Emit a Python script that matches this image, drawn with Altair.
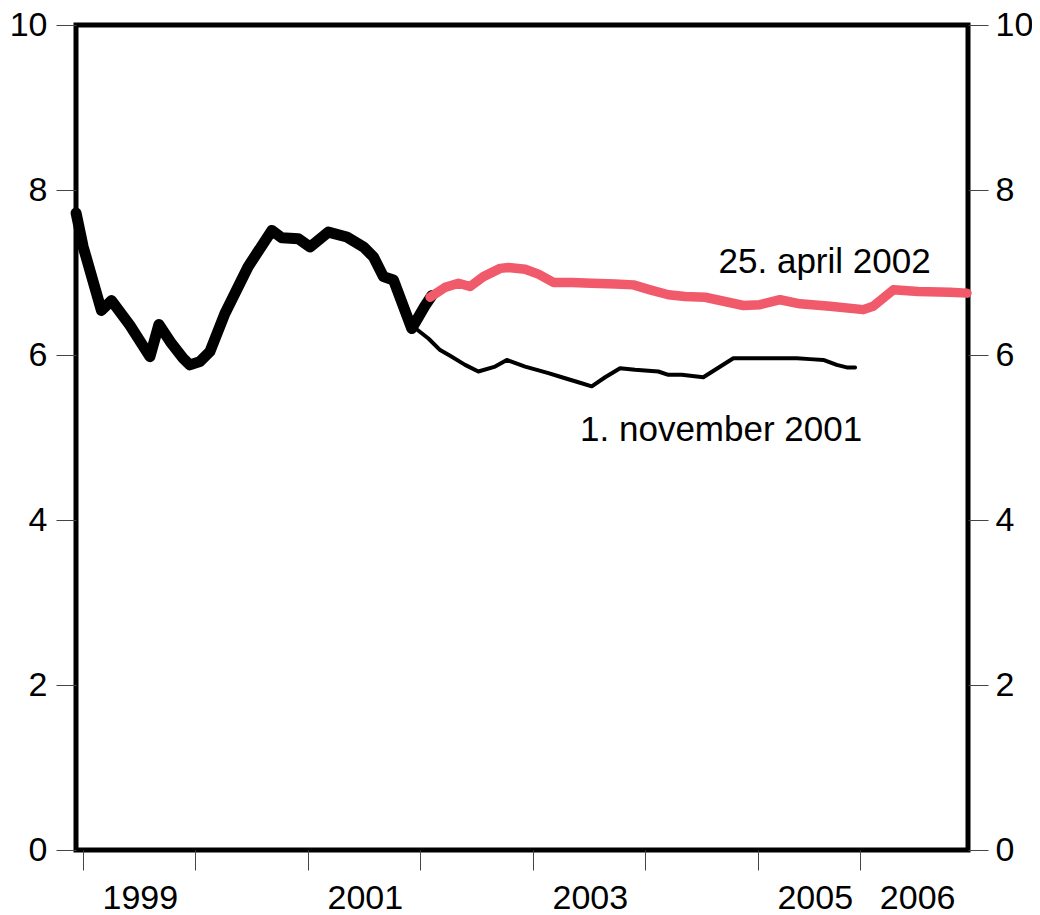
import altair as alt
import pandas as pd

# ---- data (decimal year, percent) ----
hist_t = [1998.94, 1999.003, 1999.165, 1999.254, 1999.418, 1999.596, 1999.676, 1999.788,
          1999.892, 1999.951, 2000.040, 2000.129, 2000.262, 2000.469, 2000.680, 2000.769,
          2000.916, 2001.020, 2001.183, 2001.347, 2001.495, 2001.583, 2001.672, 2001.761,
          2001.924, 2002.043, 2002.102]
hist_v = [7.72, 7.31, 6.54, 6.66, 6.36, 5.98, 6.37, 6.14,
          5.96, 5.88, 5.92, 6.04, 6.50, 7.07, 7.51, 7.42,
          7.41, 7.31, 7.49, 7.43, 7.31, 7.19, 6.95, 6.91,
          6.32, 6.60, 6.72]

nov_t = [2001.95, 2002.072, 2002.176, 2002.265, 2002.398, 2002.516, 2002.665, 2002.769,
         2002.932, 2003.139, 2003.258, 2003.405, 2003.524, 2003.643, 2003.776, 2003.909,
         2004.116, 2004.205, 2004.324, 2004.516, 2004.783, 2005.347, 2005.465, 2005.583,
         2005.702, 2005.791, 2005.865]
nov_v = [6.33, 6.20, 6.06, 5.99, 5.88, 5.80, 5.86, 5.94,
         5.86, 5.78, 5.73, 5.67, 5.62, 5.73, 5.84, 5.82,
         5.80, 5.76, 5.76, 5.73, 5.96, 5.96, 5.95, 5.94,
         5.88, 5.85, 5.85]

apr_t = [2002.087, 2002.220, 2002.339, 2002.443, 2002.561, 2002.710, 2002.783, 2002.932,
         2003.050, 2003.183, 2003.347, 2003.524, 2003.732, 2003.894, 2004.043, 2004.205,
         2004.354, 2004.532, 2004.872, 2005.020, 2005.198, 2005.376, 2005.642, 2005.939,
         2006.025, 2006.205, 2006.425, 2006.709, 2006.86]
apr_v = [6.70, 6.82, 6.87, 6.83, 6.95, 7.05, 7.06, 7.04,
         6.98, 6.88, 6.88, 6.87, 6.86, 6.85, 6.79, 6.73,
         6.71, 6.70, 6.60, 6.61, 6.67, 6.62, 6.59, 6.55,
         6.59, 6.79, 6.77, 6.76, 6.75]

label_text = ["25. april 2002", "1. november 2001"]
label_t = [2005.594, 2004.674]
label_v = [6.99, 4.955]

x_tick_values = [1999, 2000, 2001, 2002, 2003, 2004, 2005, 2005.91]
x_tick_labels = ["1999", "", "2001", "", "2003", "", "2005", "2006"]
y_tick_values = [0, 2, 4, 6, 8, 10]

df_hist = pd.DataFrame({"t": hist_t, "v": hist_v})
df_nov = pd.DataFrame({"t": nov_t, "v": nov_v})
df_apr = pd.DataFrame({"t": apr_t, "v": apr_v})
df_lab = pd.DataFrame({"t": label_t, "v": label_v, "label": label_text})

FONT = "Liberation Sans"

label_expr = ""
for val, lab in zip(x_tick_values, x_tick_labels):
    label_expr += f"abs(datum.value - {val}) < 0.01 ? '{lab}' : "
label_expr += "''"

x_scale = alt.Scale(domain=[1998.939, 2006.869], nice=False, zero=False)
y_scale = alt.Scale(domain=[0, 10], nice=False, zero=True)

x_axis = alt.Axis(values=x_tick_values, labelExpr=label_expr, labelOffset=57,
                  tickSize=20, tickColor="#444", tickWidth=1, domain=False, grid=False,
                  labelFontSize=34, labelFont=FONT, labelColor="black", labelPadding=11,
                  labelOverlap=False, labelFlush=False, labelBound=False, title=None)


def y_axis(orient, pad):
    return alt.Axis(values=y_tick_values, orient=orient, tickSize=20, tickColor="#444",
                    tickWidth=1, domain=False, grid=False, labelFontSize=34, labelFont=FONT,
                    labelColor="black", labelPadding=pad, labelOverlap=False,
                    labelFlush=False, title=None, format="d")


X = alt.X("t:Q", scale=x_scale, axis=x_axis)
Y_LEFT = alt.Y("v:Q", scale=y_scale, axis=y_axis("left", 9))

nov = alt.Chart(df_nov).mark_line(color="black", strokeWidth=4, strokeCap="round",
                                  strokeJoin="round").encode(x=X, y=Y_LEFT)
hist = alt.Chart(df_hist).mark_line(color="black", strokeWidth=11, strokeCap="round",
                                    strokeJoin="round").encode(x=X, y=Y_LEFT)
apr = alt.Chart(df_apr).mark_line(color="#F05A6A", strokeWidth=9.5, strokeCap="round",
                                  strokeJoin="round").encode(x=X, y=Y_LEFT)
txt = alt.Chart(df_lab).mark_text(font=FONT, fontSize=35, align="center",
                                  baseline="alphabetic", color="black").encode(
    x=X, y=Y_LEFT, text="label:N")

left = alt.layer(nov, hist, apr, txt)

right = alt.Chart(df_hist).mark_line(opacity=0).encode(
    x=X, y=alt.Y("v:Q", scale=y_scale, axis=y_axis("right", 7)))

chart = alt.layer(left, right).resolve_scale(y="independent").properties(
    width=892, height=825,
    autosize=alt.AutoSizeParams(type="none"),
    padding={"left": 68, "top": 17, "right": 64, "bottom": 65},
).configure_view(stroke="black", strokeWidth=5)

chart.save("out.html", embed_options={"renderer": "svg", "actions": False})
